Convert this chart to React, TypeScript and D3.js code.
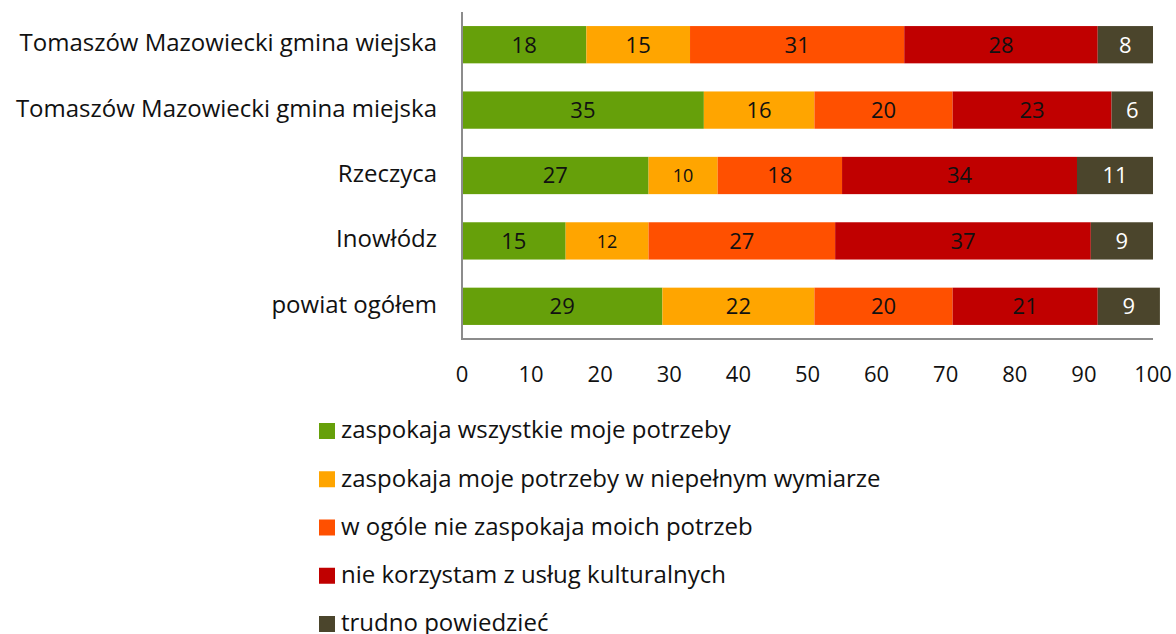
import React from "react";
import * as d3 from "d3";

const categories = [
  "Tomaszów Mazowiecki gmina wiejska",
  "Tomaszów Mazowiecki gmina miejska",
  "Rzeczyca",
  "Inowłódz",
  "powiat ogółem",
];

const seriesNames = [
  "zaspokaja wszystkie moje potrzeby",
  "zaspokaja moje potrzeby w niepełnym wymiarze",
  "w ogóle nie zaspokaja moich potrzeb",
  "nie korzystam z usług kulturalnych",
  "trudno powiedzieć",
];

const satisfiedAll = [18, 35, 27, 15, 29];
const satisfiedPartly = [15, 16, 10, 12, 22];
const notSatisfied = [31, 20, 18, 27, 20];
const notUsing = [28, 23, 34, 37, 21];
const hardToSay = [8, 6, 11, 9, 9];

const seriesValues = [satisfiedAll, satisfiedPartly, notSatisfied, notUsing, hardToSay];

const xTicks = [0, 10, 20, 30, 40, 50, 60, 70, 80, 90, 100];

const colors = ["#66a00a", "#ffa500", "#ff5000", "#c00000", "#4b452c"];
const labelColors = ["#111", "#111", "#111", "#111", "#fff"];

const FONT = "'Open Sans', 'Noto Sans', sans-serif";

function Chart() {
  const width = 1176;
  const height = 634;
  const axisX = 462;
  const plotTop = 12;
  const plotBottom = 339;

  const x = d3.scaleLinear().domain([0, 100]).range([axisX, 1153]);
  const y = d3
    .scaleBand()
    .domain(categories)
    .range([plotTop, plotBottom])
    .paddingInner(0.43)
    .paddingOuter(0.215);

  const rows = categories.map((cat, i) => {
    const obj: Record<string, number | string> = { cat };
    seriesNames.forEach((s, j) => (obj[s] = seriesValues[j][i]));
    return obj;
  });
  const stacked = d3.stack<any>().keys(seriesNames)(rows);

  const legendY = d3.scalePoint<string>().domain(seriesNames).range([431, 624]);

  return (
    <svg
      width={width}
      height={height}
      style={{ position: "absolute", left: 0, top: 0, fontFamily: FONT }}
    >
      {stacked.map((layer, si) => (
        <g key={si}>
          {layer.map((d, i) => {
            const x0 = x(d[0]);
            const x1 = x(d[1]);
            const yy = y(categories[i])!;
            const v = d[1] - d[0];
            return (
              <g key={i}>
                <rect
                  x={x0}
                  y={yy}
                  width={x1 - x0}
                  height={y.bandwidth()}
                  fill={colors[si]}
                />
                <text
                  x={(x0 + x1) / 2}
                  y={yy + y.bandwidth() / 2 + 2}
                  textAnchor="middle"
                  dominantBaseline="middle"
                  fontSize={v < 13 && si !== 4 ? 18 : 22}
                  fill={labelColors[si]}
                >
                  {v}
                </text>
              </g>
            );
          })}
        </g>
      ))}

      <line x1={axisX} y1={plotTop} x2={axisX} y2={plotBottom} stroke="#8c8c8c" strokeWidth={2} />
      <line x1={axisX - 1} y1={plotBottom} x2={x(100)} y2={plotBottom} stroke="#8c8c8c" strokeWidth={2} />

      {categories.map((c) => (
        <text
          key={c}
          x={437}
          y={y(c)! + y.bandwidth() / 2}
          textAnchor="end"
          dominantBaseline="middle"
          fontSize={24}
          fill="#111"
        >
          {c}
        </text>
      ))}

      {xTicks.map((t) => (
        <text
          key={t}
          x={x(t)}
          y={376}
          textAnchor="middle"
          dominantBaseline="middle"
          fontSize={22}
          fill="#111"
        >
          {t}
        </text>
      ))}

      {seriesNames.map((s, i) => (
        <g key={s}>
          <rect x={319} y={legendY(s)! - 8} width={16} height={16} fill={colors[i]} />
          <text x={341} y={legendY(s)! + 1} dominantBaseline="middle" fontSize={24} fill="#111">
            {s}
          </text>
        </g>
      ))}
    </svg>
  );
}

export default function App() {
  return <Chart />;
}
